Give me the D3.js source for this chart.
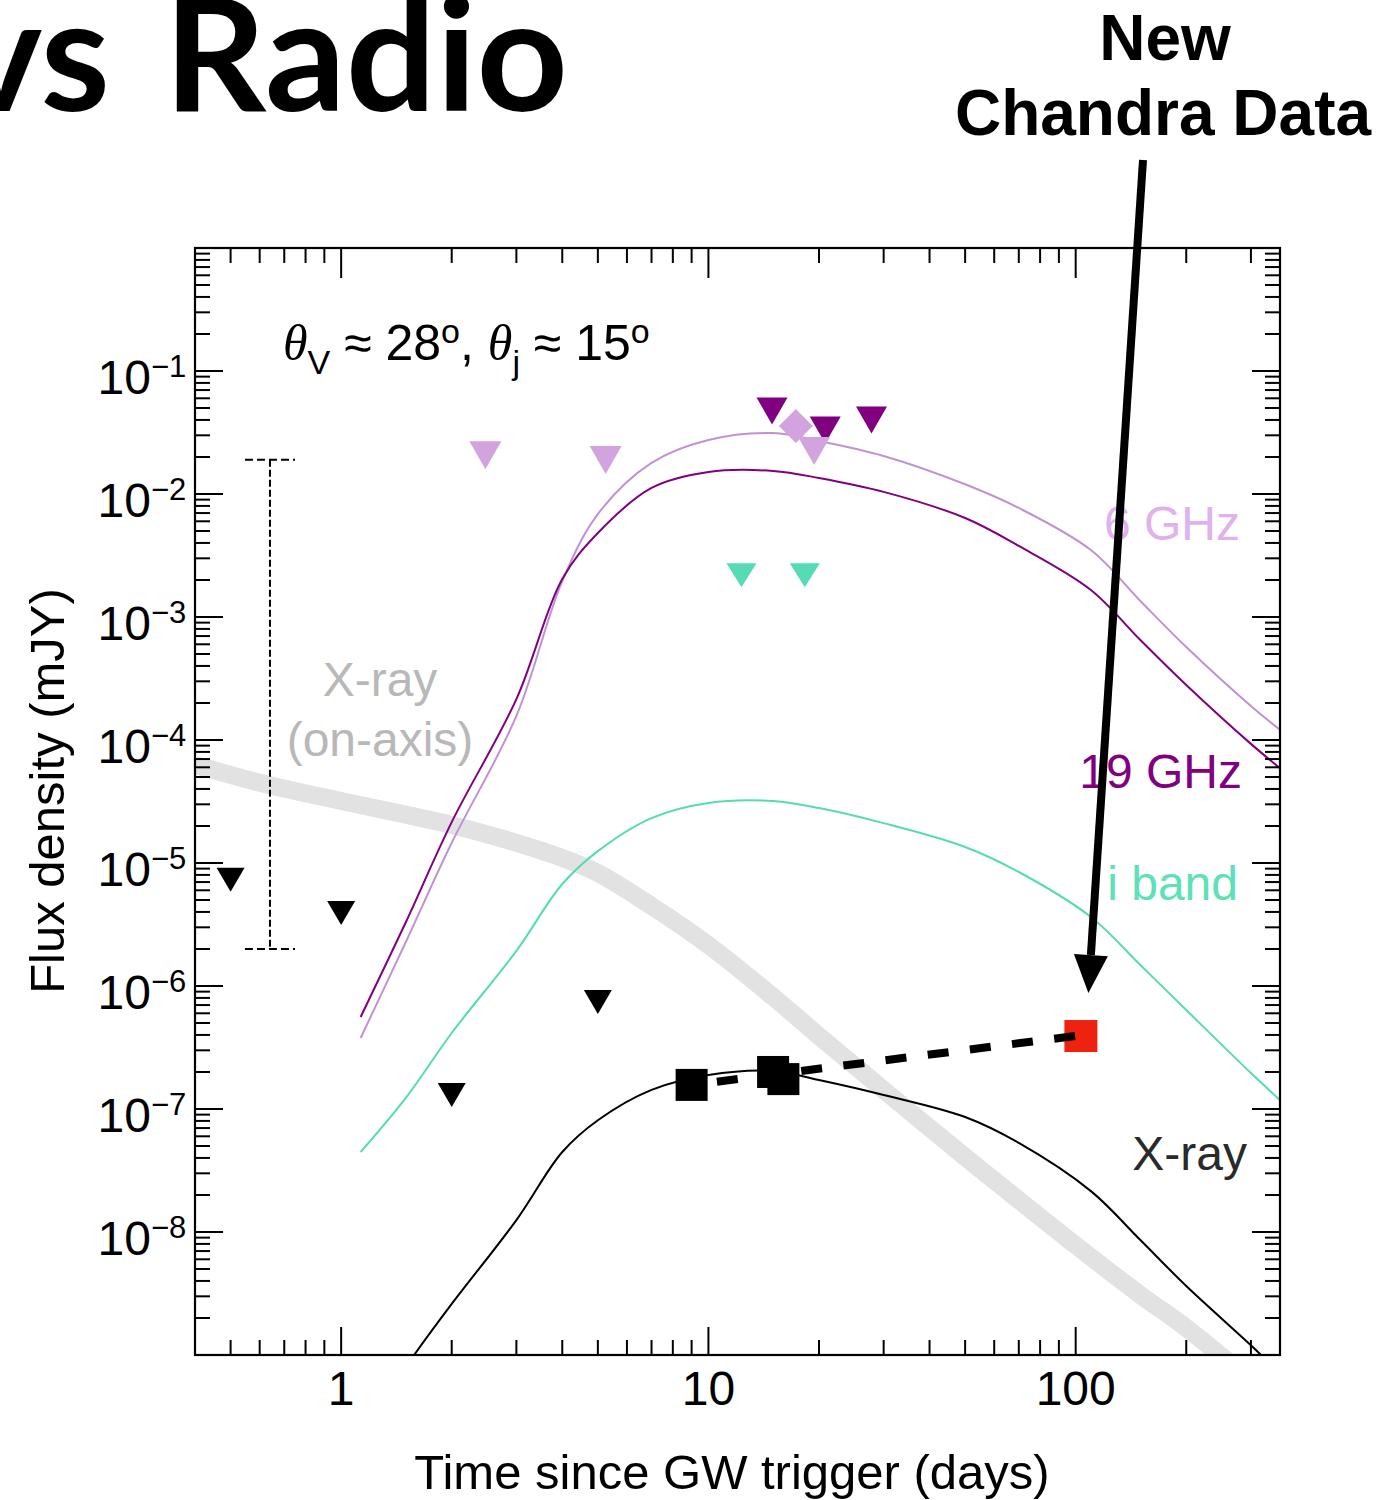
<!DOCTYPE html>
<html>
<head>
<meta charset="utf-8">
<script src="https://cdn.jsdelivr.net/npm/d3@7"></script>
<style>
  body { margin: 0; background: #fff; }
  svg { display: block; }
</style>
</head>
<body>
<svg id="chart" width="1395" height="1500"></svg>
<script>
// ---- Model light curves (time in days, flux density in mJy) ----
const tRadio = [1.13, 1.5, 2, 3, 4, 5, 7, 10, 15, 20, 30, 50, 70, 110, 150, 200, 300, 360];
const flux19GHz = [5.6e-7, 3.3e-6, 2.15e-5, 2.15e-4, 2.04e-3, 4.82e-3, 1.12e-2, 1.51e-2, 1.54e-2, 1.35e-2, 1.04e-2, 6.38e-3, 3.78e-3, 1.66e-3, 6.5e-4, 2.8e-4, 9.3e-5, 5.9e-5];
const flux6GHz = [3.78e-7, 2.28e-6, 1.46e-5, 1.57e-4, 1.96e-3, 6.87e-3, 1.79e-2, 2.75e-2, 3.13e-2, 2.7e-2, 2.04e-2, 1.2e-2, 7.7e-3, 3.5e-3, 1.35e-3, 5.7e-4, 1.89e-4, 1.21e-4];
const fluxIBand = [4.47e-8, 1.23e-7, 4.15e-7, 1.93e-6, 6.75e-6, 1.25e-5, 2.32e-5, 3.08e-5, 3.19e-5, 2.8e-5, 2.11e-5, 1.35e-5, 8.45e-6, 3.64e-6, 1.48e-6, 6.38e-7, 1.96e-7, 1.18e-7];

const tXray = [1.5, 1.58, 2, 3, 4, 5, 7, 10, 15, 20, 30, 50, 70, 110, 150, 200, 300, 330];
const fluxXray = [8e-10, 1e-9, 2.6e-9, 1.25e-8, 4.47e-8, 8.1e-8, 1.43e-7, 1.89e-7, 2.04e-7, 1.72e-7, 1.3e-7, 8.6e-8, 5.3e-8, 2.15e-8, 8.6e-9, 3.64e-9, 1.2e-9, 9.1e-10];

const tOnAxis = [0.4, 0.636, 1, 2, 3, 4, 5, 7, 10, 15, 20, 30, 50, 70, 100, 150, 200, 300];
const fluxOnAxis = [6.27e-5, 4.3e-5, 3.19e-5, 2.04e-5, 1.46e-5, 1.1e-5, 8.3e-6, 4.47e-6, 2.15e-6, 8.15e-7, 3.92e-7, 1.43e-7, 4.07e-8, 1.82e-8, 7.8e-9, 3.08e-9, 1.66e-9, 6.2e-10];

// ---- Observations ----
const xrayLimitT = [0.5, 1.0, 2.0, 5.0];
const xrayLimitF = [7.3e-6, 3.92e-6, 1.3e-7, 7.4e-7];
const xrayDetT = [9.0, 15.0, 16.0];
const xrayDetF = [1.57e-7, 2.0e-7, 1.75e-7];
const chandraT = [103];
const chandraF = [3.92e-7];
const lim6GHzT = [2.47, 5.25, 19.4];
const lim6GHzF = [2.07e-2, 1.89e-2, 2.24e-2];
const det6GHzT = [17.3];
const det6GHzF = [3.57e-2];
const lim19GHzT = [14.9, 20.8, 27.8];
const lim19GHzF = [4.73e-2, 3.31e-2, 4.0e-2];
const limIBandT = [12.3, 18.3];
const limIBandF = [2.19e-3, 2.19e-3];
const rangeBarT = 0.64;
const rangeBarF = [2.0e-6, 1.9e-2];

// ---- Axis ticks ----
const xMajor = [1, 10, 100];
const xTickLabels = ["1", "10", "100"];
const yMajorExp = [-1, -2, -3, -4, -5, -6, -7, -8];

const COL = {
  c6: "#bf93d3", c6mk: "#d3a3e0", c6txt: "#dfb2ee",
  c19: "#800080",
  ib: "#55dcb4", ibtxt: "#5ee0b8",
  band: "#e2e2e2", bandTxt: "#b8b8b8",
  red: "#ee2211"
};
const SANS = "'Liberation Sans', Arial, Helvetica, sans-serif";

const svg = d3.select("#chart");
const P = { left: 195, right: 1280, top: 248, bottom: 1355 };

const x = d3.scaleLog().domain([0.4, 360]).range([P.left, P.right]);
const y = d3.scaleLog().domain([1e-9, 1]).range([P.bottom, P.top]);

svg.append("defs").append("clipPath").attr("id", "plotClip")
  .append("rect").attr("x", P.left).attr("y", P.top)
  .attr("width", P.right - P.left).attr("height", P.bottom - P.top);

const line = d3.line().x(d => x(d[0])).y(d => y(d[1])).curve(d3.curveCatmullRom.alpha(0.5));
const zip = (a, b) => a.map((v, i) => [v, b[i]]);

const plot = svg.append("g").attr("clip-path", "url(#plotClip)");

// on-axis X-ray band
plot.append("path").attr("d", line(zip(tOnAxis, fluxOnAxis)))
  .attr("fill", "none").attr("stroke", COL.band).attr("stroke-width", 18);

// model curves
const curves = [
  [tRadio, flux6GHz, COL.c6],
  [tRadio, flux19GHz, COL.c19],
  [tRadio, fluxIBand, COL.ib],
  [tXray, fluxXray, "#000"]
];
curves.forEach(([t, f, c]) => {
  plot.append("path").attr("d", line(zip(t, f)))
    .attr("fill", "none").attr("stroke", c).attr("stroke-width", 2);
});

// range bar (dashed)
const rb = svg.append("g").attr("stroke", "#000").attr("stroke-width", 2).attr("fill", "none");
rb.append("line").attr("x1", x(rangeBarT)).attr("x2", x(rangeBarT))
  .attr("y1", y(rangeBarF[1])).attr("y2", y(rangeBarF[0]))
  .attr("stroke-dasharray", "7,3");
rangeBarF.forEach(f => {
  rb.append("line").attr("x1", x(rangeBarT) - 25).attr("x2", x(rangeBarT) + 25)
    .attr("y1", y(f)).attr("y2", y(f)).attr("stroke-dasharray", "8,4");
});

// markers
function downTri(g, ts, fs, color, w, h) {
  g.selectAll(null).data(zip(ts, fs)).enter().append("path")
    .attr("transform", d => `translate(${x(d[0])},${y(d[1])})`)
    .attr("d", `M${-w / 2},${-h / 2}L${w / 2},${-h / 2}L0,${h / 2}Z`)
    .attr("fill", color);
}
const mk = svg.append("g");
downTri(mk, xrayLimitT, xrayLimitF, "#000", 28, 24);
downTri(mk, limIBandT, limIBandF, COL.ib, 30, 24);
downTri(mk, lim19GHzT, lim19GHzF, COL.c19, 31, 27);
mk.selectAll(null).data(zip(det6GHzT, det6GHzF)).enter().append("rect")
  .attr("x", -12).attr("y", -12).attr("width", 24).attr("height", 24)
  .attr("transform", d => `translate(${x(d[0])},${y(d[1])}) rotate(45)`)
  .attr("fill", COL.c6mk);
downTri(mk, lim6GHzT, lim6GHzF, COL.c6mk, 32, 28);

mk.selectAll(null).data(zip(xrayDetT, xrayDetF)).enter().append("rect")
  .attr("x", d => x(d[0]) - 16).attr("y", d => y(d[1]) - 16)
  .attr("width", 32).attr("height", 32).attr("fill", "#000");
mk.selectAll(null).data(zip(chandraT, chandraF)).enter().append("rect")
  .attr("x", d => x(d[0]) - 16).attr("y", d => y(d[1]) - 16)
  .attr("width", 33).attr("height", 32).attr("fill", COL.red);

// dashed trend from first detection to the new Chandra point
svg.append("line")
  .attr("x1", x(xrayDetT[0])).attr("y1", y(xrayDetF[0]))
  .attr("x2", x(chandraT[0]) - 5).attr("y2", y(chandraF[0]))
  .attr("stroke", "#000").attr("stroke-width", 8)
  .attr("stroke-dasharray", "21,21.5").attr("stroke-dashoffset", 17);

// frame
svg.append("rect").attr("x", P.left).attr("y", P.top)
  .attr("width", P.right - P.left).attr("height", P.bottom - P.top)
  .attr("fill", "none").attr("stroke", "#000").attr("stroke-width", 2.2);

// ticks
const tk = svg.append("g").attr("stroke", "#000").attr("stroke-width", 2);
const xMinor = [];
[0.1, 1, 10, 100].forEach(dec => { for (let k = 2; k <= 9; k++) { const v = k * dec; if (v > 0.4 && v < 360) xMinor.push(v); } });
xMajor.forEach(v => {
  tk.append("line").attr("x1", x(v)).attr("x2", x(v)).attr("y1", P.bottom).attr("y2", P.bottom - 28);
  tk.append("line").attr("x1", x(v)).attr("x2", x(v)).attr("y1", P.top).attr("y2", P.top + 30);
});
xMinor.forEach(v => {
  tk.append("line").attr("x1", x(v)).attr("x2", x(v)).attr("y1", P.bottom).attr("y2", P.bottom - 15);
  tk.append("line").attr("x1", x(v)).attr("x2", x(v)).attr("y1", P.top).attr("y2", P.top + 15);
});
const yMinor = [];
for (let e = -9; e <= -1; e++) for (let k = 2; k <= 9; k++) yMinor.push(k * Math.pow(10, e));
const yMajorAll = [-9, -8, -7, -6, -5, -4, -3, -2, -1, 0].map(e => Math.pow(10, e));
yMajorAll.forEach(v => {
  tk.append("line").attr("y1", y(v)).attr("y2", y(v)).attr("x1", P.left).attr("x2", P.left + 28);
  tk.append("line").attr("y1", y(v)).attr("y2", y(v)).attr("x1", P.right).attr("x2", P.right - 28);
});
yMinor.forEach(v => {
  tk.append("line").attr("y1", y(v)).attr("y2", y(v)).attr("x1", P.left).attr("x2", P.left + 15);
  tk.append("line").attr("y1", y(v)).attr("y2", y(v)).attr("x1", P.right).attr("x2", P.right - 15);
});

// tick labels
xMajor.forEach((v, i) => {
  svg.append("text").attr("x", x(v)).attr("y", 1405).attr("text-anchor", "middle")
    .attr("font-family", SANS).attr("font-size", 48).text(xTickLabels[i]);
});
yMajorExp.forEach(e => {
  const yy = y(Math.pow(10, e));
  svg.append("text").attr("x", 151).attr("y", yy + 23).attr("text-anchor", "end")
    .attr("font-family", SANS).attr("font-size", 48).text("10");
  svg.append("text").attr("x", 151).attr("y", yy + 6)
    .attr("font-family", SANS).attr("font-size", 31).text("\u2212" + Math.abs(e));
});

// axis titles
svg.append("text").attr("x", 732).attr("y", 1489).attr("text-anchor", "middle")
  .attr("font-family", SANS).attr("font-size", 49).text("Time since GW trigger (days)");
svg.append("text").attr("transform", "translate(64,791) rotate(-90)").attr("text-anchor", "middle")
  .attr("font-family", SANS).attr("font-size", 49).text("Flux density (mJY)");

// angle annotation
const ann = svg.append("text").attr("x", 283).attr("y", 360)
  .attr("font-family", SANS).attr("font-size", 50).attr("fill", "#000");
ann.append("tspan").attr("font-family", "'Liberation Serif', serif").attr("font-style", "italic").text("\u03B8");
ann.append("tspan").attr("font-size", 34).attr("dy", 14).text("V");
ann.append("tspan").attr("dy", -14).text(" \u2248 28");
ann.append("tspan").attr("font-size", 34).attr("dy", -17).text("o");
ann.append("tspan").attr("dy", 17).text(", ");
ann.append("tspan").attr("font-family", "'Liberation Serif', serif").attr("font-style", "italic").text("\u03B8");
ann.append("tspan").attr("font-size", 34).attr("dy", 14).text("j");
ann.append("tspan").attr("dy", -14).text(" \u2248 15");
ann.append("tspan").attr("font-size", 34).attr("dy", -17).text("o");

// series labels
const lbl = (txt, xx, yy, color, anchor) => svg.append("text").attr("x", xx).attr("y", yy)
  .attr("text-anchor", anchor || "end").attr("font-family", SANS).attr("font-size", 48)
  .attr("fill", color).text(txt);
lbl("6 GHz", 1240, 540, COL.c6txt);
lbl("19 GHz", 1242, 788, COL.c19);
lbl("i band", 1238, 900, COL.ibtxt);
lbl("X-ray", 1247, 1170, "#2a2a2a");
lbl("X-ray", 380, 696, COL.bandTxt, "middle");
lbl("(on-axis)", 380, 756, COL.bandTxt, "middle");

// headings
svg.append("text").attr("x", 110).attr("y", 111).attr("text-anchor", "end")
  .attr("font-family", "Lato, 'Open Sans', sans-serif").attr("font-weight", 700)
  .attr("font-size", 158).text("vs");
svg.append("text").attr("x", 164).attr("y", 111)
  .attr("font-family", "Lato, 'Open Sans', sans-serif").attr("font-weight", 700)
  .attr("font-size", 158).attr("textLength", 404).attr("lengthAdjust", "spacingAndGlyphs")
  .text("Radio");

svg.append("text").attr("x", 1165).attr("y", 60).attr("text-anchor", "middle")
  .attr("font-family", SANS).attr("font-weight", 700).attr("font-size", 64).text("New");
svg.append("text").attr("x", 1163).attr("y", 135).attr("text-anchor", "middle")
  .attr("font-family", SANS).attr("font-weight", 700).attr("font-size", 64).text("Chandra Data");

// arrow pointing at the new Chandra point
const tip = [x(chandraT[0]) + 8, y(chandraF[0]) - 43];
const tail = [1143, 160];
const ang = Math.atan2(tip[1] - tail[1], tip[0] - tail[0]);
const headLen = 38, headHalf = 17;
const base = [tip[0] - headLen * Math.cos(ang), tip[1] - headLen * Math.sin(ang)];
svg.append("line").attr("x1", tail[0]).attr("y1", tail[1]).attr("x2", base[0]).attr("y2", base[1])
  .attr("stroke", "#000").attr("stroke-width", 8);
const nx = -Math.sin(ang), ny = Math.cos(ang);
svg.append("path")
  .attr("d", `M${tip[0]},${tip[1]}L${base[0] + nx * headHalf},${base[1] + ny * headHalf}L${base[0] - nx * headHalf},${base[1] - ny * headHalf}Z`)
  .attr("fill", "#000");
</script>
</body>
</html>
